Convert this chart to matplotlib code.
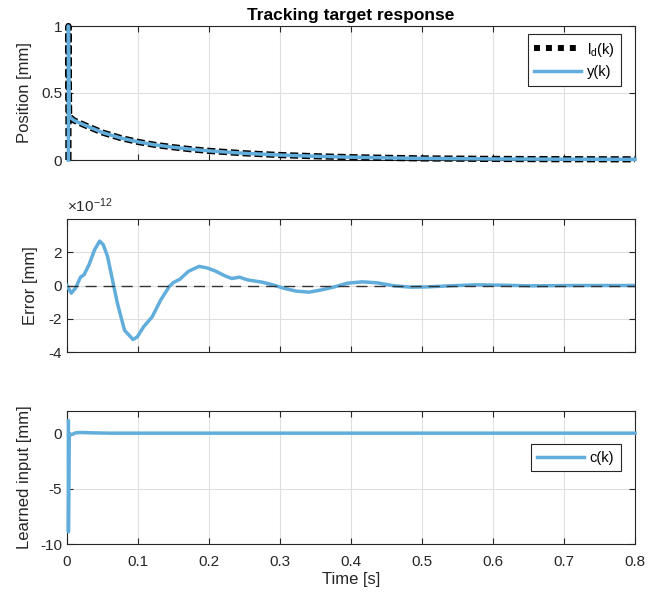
import matplotlib
matplotlib.use("Agg")
import matplotlib.pyplot as plt
from matplotlib.lines import Line2D

plt.rcParams['font.family'] = ['Liberation Sans', 'DejaVu Sans']
plt.rcParams['mathtext.fontset'] = 'custom'
plt.rcParams['mathtext.rm'] = 'Liberation Sans'
plt.rcParams['mathtext.it'] = 'Liberation Sans'

# Position: target l_d(k) and output y(k) overlap (error ~1e-12)
pos_t = [0.002, 0.002, 0.003, 0.01, 0.025, 0.05, 0.075, 0.1, 0.125, 0.15, 0.175,
         0.2, 0.25, 0.3, 0.35, 0.4, 0.45, 0.5, 0.55, 0.6, 0.7, 0.8]
pos_val = [0.0, 1.0, 0.325, 0.295, 0.26, 0.205, 0.165, 0.135, 0.112, 0.095, 0.08,
           0.068, 0.05, 0.037, 0.028, 0.021, 0.016, 0.012, 0.01, 0.008, 0.006, 0.005]

# Tracking error, in units of 1e-12 mm
err_t = [0.0, 0.006, 0.012, 0.019, 0.024, 0.031, 0.039, 0.046, 0.051, 0.057, 0.063,
         0.071, 0.081, 0.093, 0.099, 0.108, 0.120, 0.132, 0.144, 0.150, 0.159, 0.171,
         0.186, 0.198, 0.210, 0.222, 0.232, 0.243, 0.254, 0.275, 0.290, 0.305, 0.323,
         0.341, 0.359, 0.377, 0.395, 0.416, 0.437, 0.461, 0.485, 0.509, 0.539, 0.575,
         0.611, 0.653, 0.713, 0.8]
err_val = [0.0, -0.46, -0.16, 0.5, 0.65, 1.25, 2.16, 2.67, 2.46, 1.76, 0.55,
           -1.07, -2.69, -3.25, -3.09, -2.48, -1.88, -0.87, -0.06, 0.18, 0.38, 0.85,
           1.15, 1.05, 0.85, 0.59, 0.42, 0.5, 0.34, 0.2, 0.04, -0.16, -0.34,
           -0.4, -0.26, -0.08, 0.14, 0.22, 0.16, -0.02, -0.1, -0.08, -0.02, 0.04,
           0.02, -0.02, 0.0, 0.0]

# Learned input c(k)
c_t = [0.002, 0.002, 0.003, 0.005, 0.008, 0.012, 0.02, 0.035, 0.06, 0.1, 0.8]
c_val = [1.1, -8.9, 0.0, -0.15, -0.1, 0.03, 0.06, 0.03, 0.0, 0.0, 0.0]

blue = '#61AEDC'
dark = '#262626'
grid_c = '#DFDFDF'

fig = plt.figure(figsize=(6.66, 5.99), dpi=100)
W, H = 666, 599
left, right = 67, 635
boxes = [(26, 160), (219, 352), (411, 544)]
axes = []
for top, bot in boxes:
    ax = fig.add_axes([left / W, 1 - bot / H, (right - left) / W, (bot - top) / H])
    axes.append(ax)

for ax in axes:
    ax.set_xlim(0, 0.8)
    ax.set_xticks([0, 0.1, 0.2, 0.3, 0.4, 0.5, 0.6, 0.7, 0.8])
    ax.grid(True, color=grid_c, lw=0.8)
    ax.set_axisbelow(True)
    ax.tick_params(direction='in', length=4, width=0.8, colors=dark, labelsize=11,
                   top=True, right=True)
    ax.tick_params(axis='x', pad=8)
    for s in ax.spines.values():
        s.set_color(dark)
        s.set_linewidth(0.8)

ax1, ax2, ax3 = axes

# top panel
ax1.plot(pos_t, pos_val, color='black', lw=4.5, dashes=(1.3, 0.6), zorder=3, clip_on=False)
ax1.plot(pos_t, pos_val, color=blue, lw=2.5, zorder=4, clip_on=False)
ax1.set_ylim(0, 1)
ax1.set_yticks([0, 0.5, 1])
ax1.set_yticklabels(['0', '0.5', '1'])
ax1.tick_params(labelbottom=False)
ax1.set_ylabel('Position [mm]', fontsize=12, color=dark)
ax1.yaxis.set_label_coords(-0.062, 0.5)
ax1.set_title('Tracking target response', fontsize=12.5, fontweight='bold', color='black', pad=4)
h1 = [Line2D([], [], color='black', lw=4.3, dashes=(1, 1)),
      Line2D([], [], color=blue, lw=2.5)]
leg = ax1.legend(h1, [r'l$_\mathregular{d}$(k)', 'y(k)'], loc='upper right',
                 bbox_to_anchor=(0.975, 0.94), fontsize=10.5, handlelength=3.2,
                 fancybox=False, framealpha=1, edgecolor=dark, borderaxespad=0,
                 handletextpad=0.4, labelspacing=0.45, borderpad=0.45)
leg.get_frame().set_linewidth(0.8)
leg.set_zorder(10)

# middle panel
ax2.plot(err_t, err_val, color=blue, lw=2.5, zorder=3)
ax2.axhline(0, color='#333333', lw=1.0, dashes=(8, 5), zorder=4)
ax2.set_ylim(-4, 4)
ax2.set_yticks([-4, -2, 0, 2])
ax2.set_yticklabels(['-4', '-2', '0', '2'])
ax2.tick_params(labelbottom=False)
ax2.set_ylabel('Error [mm]', fontsize=12, color=dark)
ax2.yaxis.set_label_coords(-0.051, 0.5)
ax2.text(0.0, 1.03, r'$\times$10$^{\mathregular{-12}}$', transform=ax2.transAxes,
         fontsize=11, color=dark, ha='left', va='bottom')

# bottom panel
ax3.plot(c_t, c_val, color=blue, lw=2.5, zorder=3, clip_on=False)
ax3.set_ylim(-10, 2)
ax3.set_yticks([-10, -5, 0])
ax3.set_yticklabels(['-10', '-5', '0'])
ax3.set_xticklabels(['0', '0.1', '0.2', '0.3', '0.4', '0.5', '0.6', '0.7', '0.8'])
ax3.set_xlabel('Time [s]', fontsize=12, color=dark, labelpad=2)
ax3.set_ylabel('Learned input [mm]', fontsize=12, color=dark)
ax3.yaxis.set_label_coords(-0.062, 0.5)
h3 = [Line2D([], [], color=blue, lw=2.5)]
leg3 = ax3.legend(h3, ['c(k)'], loc='upper right', bbox_to_anchor=(0.975, 0.75),
                  fontsize=10.5, handlelength=3.2, fancybox=False, framealpha=1,
                  edgecolor=dark, borderaxespad=0, handletextpad=0.4, borderpad=0.45)
leg3.get_frame().set_linewidth(0.8)

fig.savefig('out.png', dpi=100)
